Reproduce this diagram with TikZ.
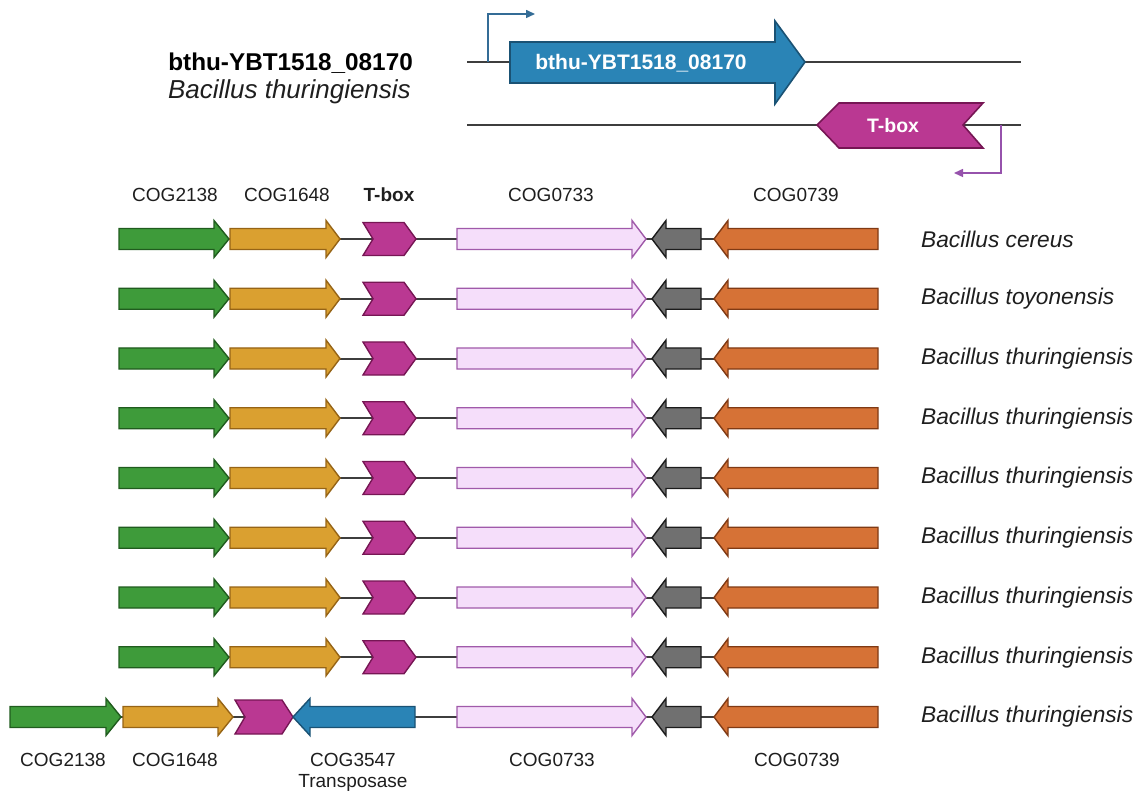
\documentclass[tikz,border=0pt]{standalone}
\usepackage{fontspec}
\setmainfont{Liberation Sans}
\usetikzlibrary{arrows.meta}

\definecolor{greenF}{RGB}{62,155,58}
\definecolor{greenD}{RGB}{32,92,30}
\definecolor{goldF}{RGB}{218,160,48}
\definecolor{goldD}{RGB}{150,100,22}
\definecolor{magF}{RGB}{186,56,146}
\definecolor{magD}{RGB}{118,22,84}
\definecolor{pinkF}{RGB}{245,222,250}
\definecolor{pinkD}{RGB}{160,90,170}
\definecolor{grayF}{RGB}{112,112,112}
\definecolor{grayD}{RGB}{28,28,28}
\definecolor{orgF}{RGB}{214,114,54}
\definecolor{orgD}{RGB}{128,58,20}
\definecolor{blueF}{RGB}{42,132,182}
\definecolor{blueD}{RGB}{26,82,116}
\definecolor{promBlue}{RGB}{52,108,150}
\definecolor{promPurple}{RGB}{150,82,172}
\definecolor{backbone}{RGB}{62,62,62}
\definecolor{txt}{RGB}{30,30,30}

\tikzset{
  gene/.style={line width=1.4pt, line join=miter, miter limit=10},
  cogA/.style={gene, fill=greenF, draw=greenD},
  cogB/.style={gene, fill=goldF, draw=goldD},
  tbox/.style={gene, fill=magF, draw=magD},
  cogC/.style={gene, fill=pinkF, draw=pinkD},
  small/.style={gene, fill=grayF, draw=grayD},
  cogD/.style={gene, fill=orgF, draw=orgD},
  transp/.style={gene, fill=blueF, draw=blueD},
  dna/.style={line width=2pt, draw=backbone},
  lbl/.style={text=txt, font=\fontsize{19}{22}\selectfont, inner sep=0pt},
  species/.style={text=txt, font=\fontsize{22.7}{26}\selectfont\itshape, anchor=west, inner sep=0pt},
  prom/.style={line width=1.5pt, -{Triangle[length=9pt,width=8pt]}},
}

% forward gene: tail x, tip x, centre y, head length, style
\newcommand\fwdgene[5]{%
  \draw[#5] (#1,{#3-10.5}) -- ({#2-#4},{#3-10.5}) -- ({#2-#4},{#3-18.5}) -- (#2,#3)
    -- ({#2-#4},{#3+18.5}) -- ({#2-#4},{#3+10.5}) -- (#1,{#3+10.5}) -- cycle;}
% reverse gene: tip x, tail x, centre y, head length, style
\newcommand\revgene[5]{%
  \draw[#5] (#2,{#3-10.5}) -- ({#1+#4},{#3-10.5}) -- ({#1+#4},{#3-18.5}) -- (#1,#3)
    -- ({#1+#4},{#3+18.5}) -- ({#1+#4},{#3+10.5}) -- (#2,{#3+10.5}) -- cycle;}
% T-box chevron: left x, point start x, tip x, centre y, half height
\newcommand\chevron[5]{%
  \draw[tbox] (#1,{#4-#5}) -- (#2,{#4-#5}) -- (#3,#4) -- (#2,{#4+#5})
    -- (#1,{#4+#5}) -- ({#1+10},#4) -- cycle;}

\begin{document}
\begin{tikzpicture}[x=1pt,y=-1pt]
\useasboundingbox (0,0) rectangle (1138,794);

% ---- reference locus ----
\node[text=black, font=\fontsize{24.3}{27}\selectfont\bfseries, anchor=east, inner sep=0pt] (locus) at (413,63) {bthu-YBT1518\_08170};
\node[text=txt, font=\fontsize{26}{29}\selectfont\itshape, anchor=east, inner sep=0pt] (locusorg) at (411,92) {Bacillus thuringiensis};

\coordinate (topL) at (467,62);
\coordinate (topR) at (1021,62);
\coordinate (botL) at (467,125);
\coordinate (botR) at (1021,125);
\draw[dna, line width=2.2pt] (topL) -- (topR);
\draw[dna, line width=2.2pt] (botL) -- (botR);

\draw[transp, line width=1.6pt] (510,42) -- (775,42) -- (775,21) -- (805,62) -- (775,104) -- (775,83) -- (510,83) -- cycle;
\node[text=white, font=\fontsize{21}{24}\selectfont\bfseries, inner sep=0pt] (mainlbl) at (641,63) {bthu-YBT1518\_08170};

\draw[tbox, line width=1.6pt] (817,125) -- (839,103) -- (983,103) -- (963,125) -- (983,148) -- (839,148) -- cycle;
\node[text=white, font=\fontsize{19.5}{22}\selectfont\bfseries, inner sep=0pt] (toplbl) at (893,126) {T-box};

\coordinate (p1a) at (488,62);
\coordinate (p1b) at (488,14);
\coordinate (p1c) at (535,14);
\draw[prom, promBlue] (p1a) -- (p1b) -- (p1c);
\coordinate (p2a) at (1001,125);
\coordinate (p2b) at (1001,173);
\coordinate (p2c) at (954,173);
\draw[prom, promPurple] (p2a) -- (p2b) -- (p2c);

% ---- column headings ----
\node[lbl] (h2138) at (175,195) {COG2138};
\node[lbl] (h1648) at (287,195) {COG1648};
\node[lbl, font=\fontsize{19}{22}\selectfont\bfseries] (htbox) at (389,195) {T-box};
\node[lbl] (h0733) at (551,195) {COG0733};
\node[lbl] (h0739) at (796,195) {COG0739};

% ---- conserved neighbourhoods ----
\foreach \i/\sp in {0/cereus, 1/toyonensis, 2/thuringiensis, 3/thuringiensis,
                    4/thuringiensis, 5/thuringiensis, 6/thuringiensis, 7/thuringiensis} {
  \pgfmathsetmacro\yy{239+59.75*\i}
  \draw[dna] (119,\yy) -- (878,\yy);
  \fwdgene{119}{229}{\yy}{15}{cogA}
  \fwdgene{230}{340}{\yy}{14}{cogB}
  \chevron{363}{404}{416}{\yy}{16.5}
  \fwdgene{457}{646}{\yy}{14}{cogC}
  \revgene{652}{701}{\yy}{14}{small}
  \revgene{714}{878}{\yy}{14}{cogD}
  \node[species] (sp\i) at (921,\yy) {Bacillus \sp};
}

% ---- neighbourhood with transposase insertion ----
\def\yl{717}
\draw[dna] (10,\yl) -- (878,\yl);
\fwdgene{10}{121}{\yl}{15}{cogA}
\fwdgene{123}{233}{\yl}{15}{cogB}
\chevron{235}{282}{293}{\yl}{17}
\revgene{293}{415}{\yl}{17}{transp}
\fwdgene{457}{646}{\yl}{14}{cogC}
\revgene{652}{701}{\yl}{14}{small}
\revgene{714}{878}{\yl}{14}{cogD}
\node[species] (sp8) at (921,\yl) {Bacillus thuringiensis};

% ---- bottom labels ----
\node[lbl] (b2138) at (63,760) {COG2138};
\node[lbl] (b1648) at (175,760) {COG1648};
\node[lbl] (b3547) at (353,760) {COG3547};
\node[lbl] (btrans) at (353,783) {Transposase};
\node[lbl] (b0733) at (552,760) {COG0733};
\node[lbl] (b0739) at (797,760) {COG0739};
\end{tikzpicture}
\end{document}
